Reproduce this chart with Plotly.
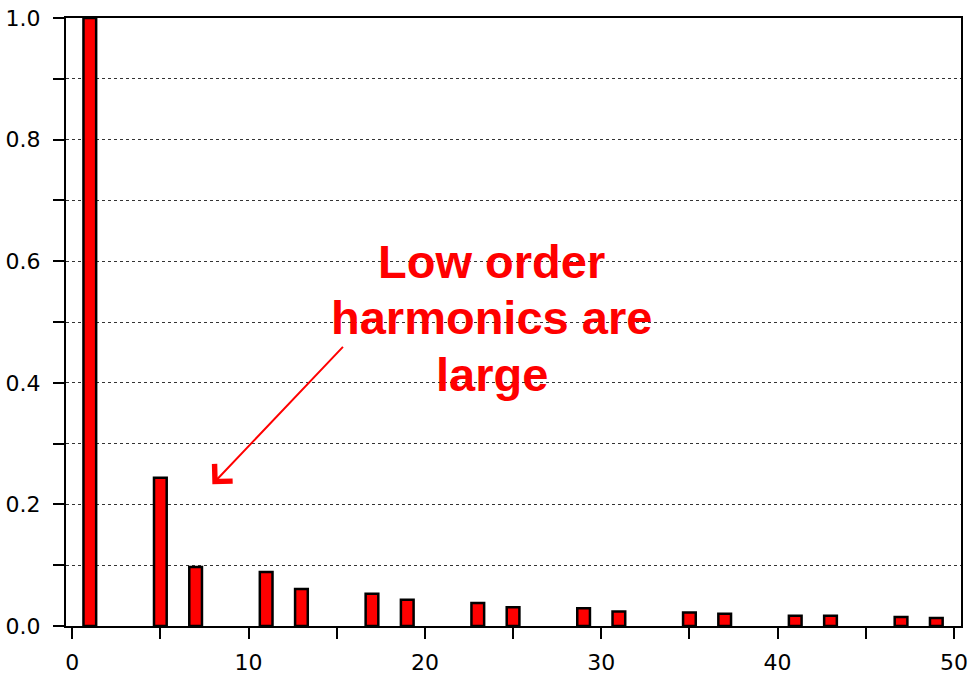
import plotly.graph_objects as go

harmonic_order = [1, 5, 7, 11, 13, 17, 19, 23, 25, 29, 31, 35, 37, 41, 43, 47, 49]
magnitude = [1.0, 0.244, 0.097, 0.089, 0.061, 0.053, 0.043, 0.038, 0.031,
             0.029, 0.024, 0.022, 0.020, 0.017, 0.017, 0.015, 0.013]

y_tickvals = [0.0, 0.1, 0.2, 0.3, 0.4, 0.5, 0.6, 0.7, 0.8, 0.9, 1.0]
y_ticktext = ["0.0", "", "0.2", "", "0.4", "", "0.6", "", "0.8", "", "1.0"]
x_tickvals = [0, 5, 10, 15, 20, 25, 30, 35, 40, 45, 50]
x_ticktext = ["0", "", "10", "", "20", "", "30", "", "40", "", "50"]

note_lines = ["Low order", "harmonics are", "large"]

fig = go.Figure()
fig.add_trace(go.Bar(
    x=harmonic_order, y=magnitude, width=0.72,
    marker=dict(color="#ff0000", line=dict(color="black", width=2.5)),
))

fig.update_layout(
    width=974, height=681,
    margin=dict(l=65, r=6, t=18, b=52),
    paper_bgcolor="white", plot_bgcolor="white",
    showlegend=False,
    font=dict(family="DejaVu Sans", size=22, color="black"),
    xaxis=dict(range=[-0.35, 50.4], tickvals=x_tickvals, ticktext=x_ticktext,
               ticks="outside", ticklen=11, tickwidth=2, tickcolor="black",
               showline=True, linecolor="black", linewidth=2, mirror=True,
               showgrid=False, zeroline=False, ticklabelstandoff=5),
    yaxis=dict(range=[0, 1.0], tickvals=y_tickvals, ticktext=y_ticktext,
               ticks="outside", ticklen=11, tickwidth=2, tickcolor="black",
               showline=True, linecolor="black", linewidth=2, mirror=True,
               showgrid=True, gridcolor="#333333", gridwidth=1, griddash="dot",
               zeroline=False, ticklabelstandoff=8),
)

# text annotation lines
for txt, yv in zip(note_lines, [0.600, 0.507, 0.414]):
    fig.add_annotation(x=23.8, y=yv, xref="x", yref="y", text=txt,
                       showarrow=False, xanchor="center", yanchor="middle",
                       font=dict(family="Liberation Sans", size=47, color="#ff0000",
                                 weight="bold"))

fig.add_annotation(x=7.95, y=0.233, xref="x", yref="y", text="",
                   showarrow=True, ax=132, ay=-139, axref="pixel", ayref="pixel",
                   arrowhead=4, arrowsize=2.4, arrowwidth=2, arrowcolor="#ff0000")

fig.write_html("out.html")
